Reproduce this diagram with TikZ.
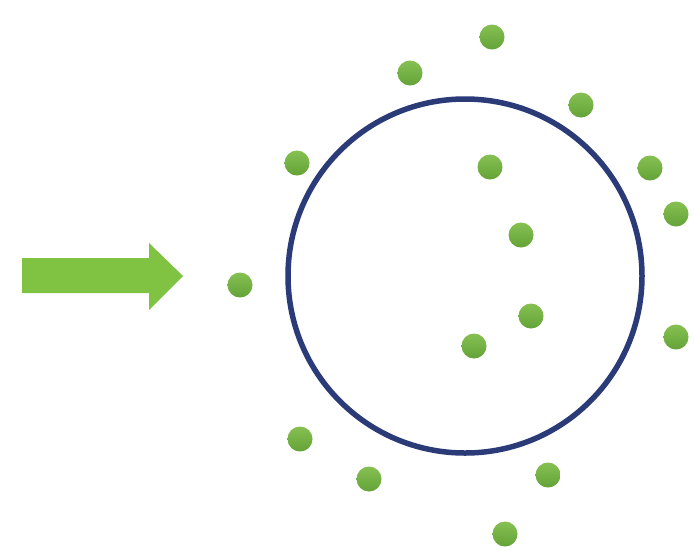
\documentclass[tikz,border=0pt]{standalone}
\usepackage{xcolor}
\definecolor{dotgreen}{HTML}{64A338}
\definecolor{dotlight}{HTML}{86C052}
\definecolor{arrowgreen}{HTML}{80C342}
\definecolor{ringblue}{HTML}{2A3B78}
\tikzset{
  dot/.style={circle, minimum size=25pt, inner sep=0pt, top color=dotlight, bottom color=dotgreen},
  ring/.style={draw=ringblue, line width=5.5pt},
  bigarrow/.style={fill=arrowgreen, draw=none}
}
\begin{document}
\begin{tikzpicture}[x=1pt,y=-1pt]
\useasboundingbox (0,0) rectangle (695,550);
\fill[white] (0,0) rectangle (695,550);
% ring
\node[ring, circle, minimum size=354pt, inner sep=0pt] (ring) at (465,276) {};
% arrow
\path[bigarrow] (22,258) -- (149,258) -- (149,243) -- (183,276) -- (149,310) -- (149,293) -- (22,293) -- cycle;
% dots
\foreach \n/\x/\y in {d1/492/37, d2/410/73, d3/581/105, d4/297/163, d5/490/167, d6/650/168, d7/676/214, d8/521/235, d9/240/285, d10/531/316, d11/474/346, d12/676/337, d13/300/439, d14/369/479, d15/548/475, d16/505/534}
  \node[dot] (\n) at (\x,\y) {};
\end{tikzpicture}
\end{document}
